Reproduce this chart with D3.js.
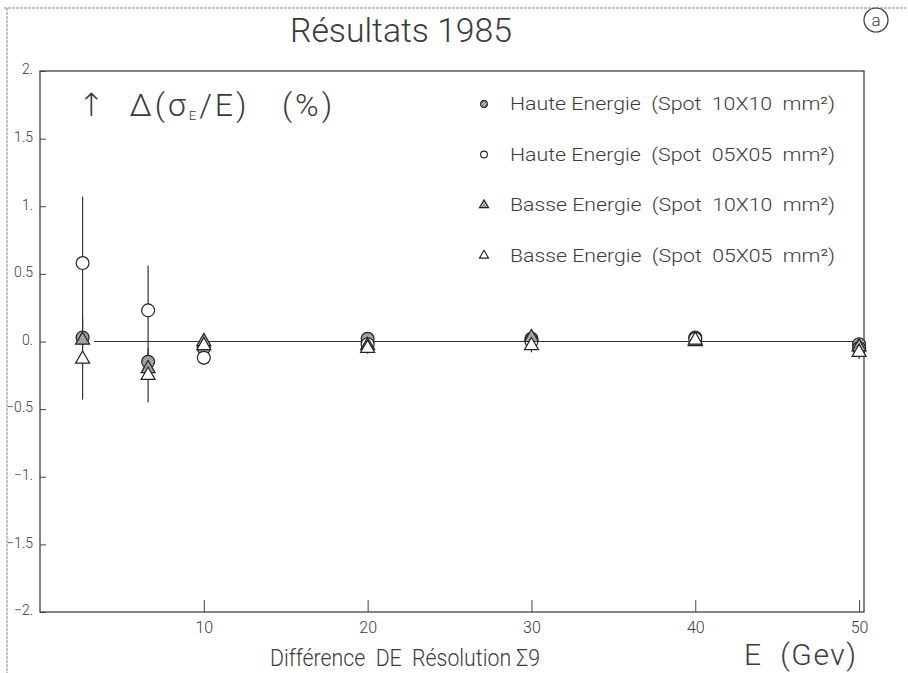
<!DOCTYPE html>
<html><head><meta charset="utf-8">
<script src="https://cdn.jsdelivr.net/npm/d3@7/dist/d3.min.js"></script>
<style>
body{margin:0;background:#fff;}
svg{display:block;}
text{font-family:Roboto,"Open Sans","DejaVu Sans",sans-serif;font-weight:300;fill:#3a3a3a;white-space:pre;}
</style></head>
<body><svg id="c" width="908" height="673"></svg>
<script>
// ---- data ----
const energies = [2.6, 6.6, 10, 20, 30, 40, 50];
const hauteSpot10 = [0.03, -0.15, -0.05, 0.02, 0.02, 0.03, -0.02];
const hauteSpot10Err = [0.05, 0.05, 0.03, 0.03, 0.03, 0.03, 0.03];
const hauteSpot05 = [0.58, 0.23, -0.12, -0.02, 0.00, 0.02, -0.05];
const hauteSpot05Err = [0.49, 0.33, 0.05, 0.04, 0.06, 0.03, 0.06];
const basseSpot10 = [0.01, -0.20, 0.00, -0.03, 0.03, 0.00, -0.04];
const basseSpot10Err = [0.05, 0.05, 0.03, 0.03, 0.04, 0.03, 0.04];
const basseSpot05 = [-0.13, -0.25, -0.03, -0.05, -0.03, 0.01, -0.08];
const basseSpot05Err = [0.30, 0.20, 0.04, 0.04, 0.05, 0.03, 0.05];
const seriesNames = ["Haute Energie  (Spot  10X10  mm²)", "Haute Energie  (Spot  05X05  mm²)",
                     "Basse Energie  (Spot  10X10  mm²)", "Basse Energie  (Spot  05X05  mm²)"];
const yTicks = [2, 1.5, 1, 0.5, 0, -0.5, -1, -1.5, -2];
const yTickLabels = ["2.", "1.5", "1.", "0.5", "0.", "−0.5", "−1.", "−1.5", "−2."];
const xTicks = [10, 20, 30, 40, 50];
const zeroLine = [3.3, 50.3];

// ---- layout ----
const svg = d3.select("#c");
const L = 40, R = 864, T = 71, B = 612;
const x = d3.scaleLinear().domain([0, 50.3]).range([L, R]);
const y = d3.scaleLinear().domain([-2, 2]).range([B, T]);

// page border (scan edge)
svg.append("line").attr("x1",4).attr("x2",906).attr("y1",8).attr("y2",8).attr("stroke","#888").attr("stroke-width",1).attr("stroke-dasharray","3,1");
svg.append("line").attr("x1",7).attr("x2",7).attr("y1",8).attr("y2",673).attr("stroke","#888").attr("stroke-width",1).attr("stroke-dasharray","3,1");

// hatch pattern
const defs = svg.append("defs");
const pat = defs.append("pattern").attr("id","hatch").attr("patternUnits","userSpaceOnUse").attr("width",3).attr("height",3);
pat.append("rect").attr("width",3).attr("height",3).attr("fill","#c4c4c4");
pat.append("path").attr("d","M0,3 L3,0").attr("stroke","#444").attr("stroke-width",0.8);

// frame
svg.append("rect").attr("x",L).attr("y",T).attr("width",R-L).attr("height",B-T)
  .attr("fill","none").attr("stroke","#333").attr("stroke-width",1.2);

// y axis (ticks inward)
const yAxis = d3.axisLeft(y).tickValues(yTicks).tickSize(-6).tickPadding(7)
  .tickFormat((d,i)=>yTickLabels[i]);
const gy = svg.append("g").attr("transform",`translate(${L},0)`).call(yAxis);
gy.select(".domain").remove();
gy.selectAll("line").attr("stroke","#444");
gy.selectAll("text").style("font-size","14px").attr("fill","#3a3a3a").attr("dy","0.2em");

// x axis (ticks inward)
const xAxis = d3.axisBottom(x).tickValues(xTicks).tickSize(-12).tickPadding(7).tickFormat(d3.format("d"));
const gx = svg.append("g").attr("transform",`translate(0,${B})`).call(xAxis);
gx.select(".domain").remove();
gx.selectAll("line").attr("stroke","#444");
gx.selectAll("text").style("font-size","16px").attr("fill","#3a3a3a").attr("dy","0.85em");

// zero line
svg.append("line").attr("x1",x(zeroLine[0])).attr("x2",x(zeroLine[1])).attr("y1",y(0)).attr("y2",y(0))
  .attr("stroke","#333").attr("stroke-width",1);

// series
const series = [
  {vals:hauteSpot10, err:hauteSpot10Err, shape:"circle", fill:"url(#hatch)"},
  {vals:hauteSpot05, err:hauteSpot05Err, shape:"circle", fill:"#fff"},
  {vals:basseSpot10, err:basseSpot10Err, shape:"triangle", fill:"url(#hatch)"},
  {vals:basseSpot05, err:basseSpot05Err, shape:"triangle", fill:"#fff"}
];
const sym = {
  circle: d3.symbol().type(d3.symbolCircle).size(130),
  triangle: d3.symbol().type(d3.symbolTriangle).size(85)
};
const legendSym = {
  circle: d3.symbol().type(d3.symbolCircle).size(36),
  triangle: d3.symbol().type(d3.symbolTriangle).size(36)
};
series.forEach(s=>{
  svg.append("g").selectAll("line").data(energies).join("line")
    .attr("x1",d=>x(d)).attr("x2",d=>x(d))
    .attr("y1",(d,i)=>y(s.vals[i]+s.err[i])).attr("y2",(d,i)=>y(s.vals[i]-s.err[i]))
    .attr("stroke","#333").attr("stroke-width",1.2);
});
series.forEach(s=>{
  svg.append("g").selectAll("path").data(energies).join("path")
    .attr("d",sym[s.shape]())
    .attr("transform",(d,i)=>`translate(${x(d)},${y(s.vals[i])})`)
    .attr("fill",s.fill).attr("stroke","#222").attr("stroke-width",1.2);
});

// title
svg.append("text").attr("x",290).attr("y",42)
  .style("font-size","33px").attr("textLength",222).attr("lengthAdjust","spacingAndGlyphs").text("Résultats 1985");
// (a)
svg.append("circle").attr("cx",876).attr("cy",20).attr("r",12).attr("fill","none").attr("stroke","#333").attr("stroke-width",1.2);
svg.append("text").attr("x",876).attr("y",26).attr("text-anchor","middle").style("font-size","17px").text("a");

// y label inside
const yl = svg.append("text").attr("x",78).attr("y",116).style("font-size","32px").style("letter-spacing","3px");
yl.append("tspan").text("↑  Δ(σ");
yl.append("tspan").attr("baseline-shift","-30%").style("font-size","13px").text("E");
yl.append("tspan").text("/E)   (%)");

// legend
const lg = svg.append("g");
series.forEach((s,i)=>{
  const yy = 104 + i*50.5;
  lg.append("path").attr("d",legendSym[s.shape]()).attr("transform",`translate(484,${yy})`)
    .attr("fill",s.fill).attr("stroke","#222").attr("stroke-width",1.1);
  lg.append("text").attr("x",510).attr("y",yy+6).style("font-size","18px")
    .attr("textLength",325).attr("lengthAdjust","spacingAndGlyphs")
    .text(seriesNames[i]);
});

// x labels
svg.append("text").attr("x",270).attr("y",666).style("font-size","24px")
  .attr("textLength",270).attr("lengthAdjust","spacingAndGlyphs").text("Différence  DE  Résolution Σ9");
svg.append("text").attr("x",744).attr("y",665).style("font-size","30px")
  .attr("textLength",112).attr("lengthAdjust","spacing").text("E  (Gev)");
</script></body></html>
